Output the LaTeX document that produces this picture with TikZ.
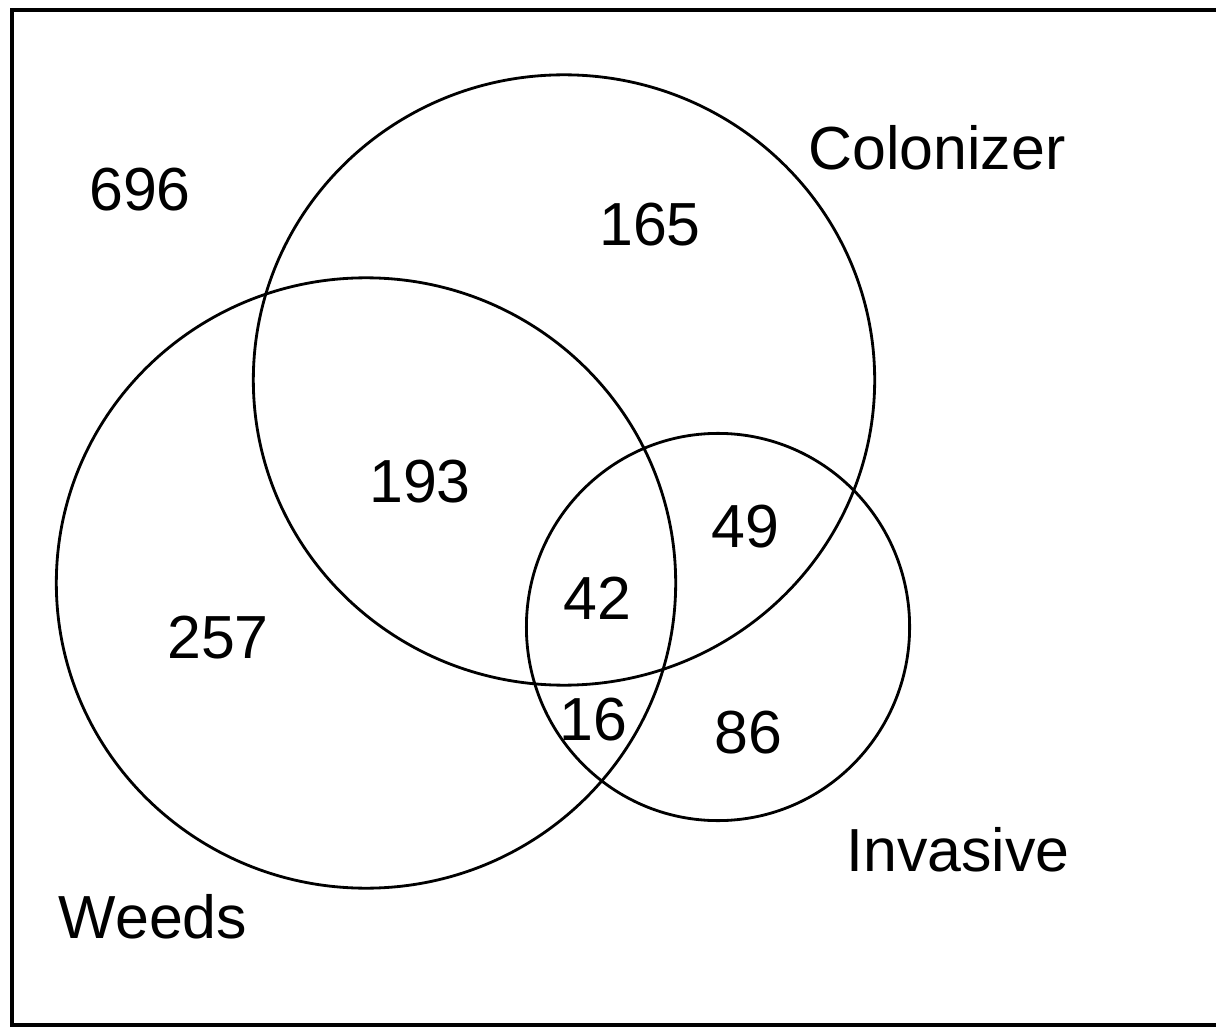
\documentclass[tikz,border=0pt]{standalone}
\usepackage{fontspec}
\setmainfont{Liberation Sans}
\usetikzlibrary{positioning, shapes.geometric}

\begin{document}
\begin{tikzpicture}[
    x=0.01cm, y=-0.01cm,
    every node/.style={font=\fontsize{17.3}{20}\selectfont},
    vennset/.style={
        ellipse,
        draw,
        line width=0.8pt,
        inner sep=0pt,
    },
    count/.style={
        inner sep=0pt,
    },
    setlabel/.style={
        inner sep=0pt,
    },
]

\useasboundingbox (0,0) rectangle (1216,1031);

% ===== Marco =====
\draw[line width=0.9pt] (1216,10) -- (12,10) -- (12,1025) -- (1216,1025);

% ===== Conjuntos =====
\node[vennset, minimum width=6.21cm, minimum height=6.10cm] (colonizer) at (564,380) {};
\node[vennset, minimum width=6.19cm, minimum height=6.10cm] (weeds) at (366,583) {};
\node[vennset, minimum width=3.83cm, minimum height=3.87cm] (invasive) at (718,627) {};

% ===== Nombres de los conjuntos =====
\node[setlabel] (colonizerlbl) at (937,148) {Colonizer};
\node[setlabel] (invasivelbl) at (958,850) {Invasive};
\node[setlabel] (weedslbl) at (153,917) {Weeds};

% ===== Recuentos =====
\node[count] (outside) at (140,190) {696};
\node[count] (conly) at (650,225) {165};
\node[count] (cw) at (420,482) {193};
\node[count] (ci) at (745,527) {49};
\node[count] (cwi) at (597,598) {42};
\node[count] (wonly) at (218,638) {257};
\node[count] (wi) at (593,720) {16};
\node[count] (ionly) at (748,733) {86};

\end{tikzpicture}
\end{document}
